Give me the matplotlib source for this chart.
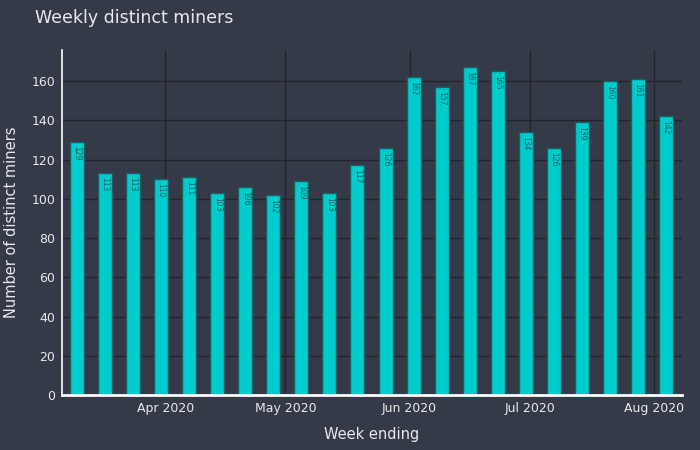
import matplotlib
matplotlib.use("Agg")
import matplotlib.pyplot as plt
import matplotlib.dates as mdates
import numpy as np
import pandas as pd

week_ending = pd.date_range("2020-03-10", periods=22, freq="7D")
miners = [129, 113, 113, 110, 111, 103, 106, 102, 109, 103, 117, 126,
          162, 157, 167, 165, 134, 126, 139, 160, 161, 142]
tick_dates = ["2020-04-01", "2020-05-01", "2020-06-01", "2020-07-01", "2020-08-01"]
tick_labels = ["Apr 2020", "May 2020", "Jun 2020", "Jul 2020", "Aug 2020"]

bg = "#353a48"
grid = "#22252d"
bar_c = "#00cccc"
edge_c = "#1d5e63"
txt = "#e8e8ec"

plt.rcParams["font.family"] = ["DejaVu Sans"]
fig = plt.figure(figsize=(7, 4.5), dpi=100, facecolor=bg)
ax = fig.add_axes([62/700, 55/450, 620/700, 345/450], facecolor=bg)

x = mdates.date2num(week_ending)
bars = ax.bar(x, miners, width=3.5, color=bar_c, edgecolor=edge_c, linewidth=1, zorder=3)
for xi, v in zip(x, miners):
    ax.text(xi, v - 2, str(v), rotation=-90, ha="center", va="top",
            fontsize=5.5, color="#2f5a5e", zorder=4)

ax.set_xlim(mdates.date2num(pd.Timestamp("2020-03-06 06:00")),
            mdates.date2num(pd.Timestamp("2020-08-08")))
ax.set_ylim(0, 175.8)
ax.set_yticks(np.arange(0, 161, 20))
ax.set_xticks(mdates.date2num(pd.to_datetime(tick_dates)))
ax.set_xticklabels(tick_labels)
ax.grid(True, color=grid, linewidth=1, zorder=0)
for s in ["top", "right"]:
    ax.spines[s].set_visible(False)
ax.spines["left"].set_color("white")
ax.spines["bottom"].set_color("white")
ax.spines["left"].set_linewidth(1.2)
ax.spines["bottom"].set_linewidth(2)
ax.spines["left"].set_zorder(5)
ax.spines["bottom"].set_zorder(5)
ax.tick_params(axis="both", length=0, colors=txt, labelsize=9)
ax.tick_params(axis="y", pad=5)
ax.tick_params(axis="x", pad=5)

ax.set_xlabel("Week ending", color=txt, fontsize=10.5, labelpad=9)
ax.set_ylabel("Number of distinct miners", color=txt, fontsize=10.5, labelpad=9)
fig.text(35/700, 1 - 18/450, "Weekly distinct miners", color=txt, fontsize=12.5,
         ha="left", va="center")

fig.savefig("out.png", dpi=100, facecolor=bg)
